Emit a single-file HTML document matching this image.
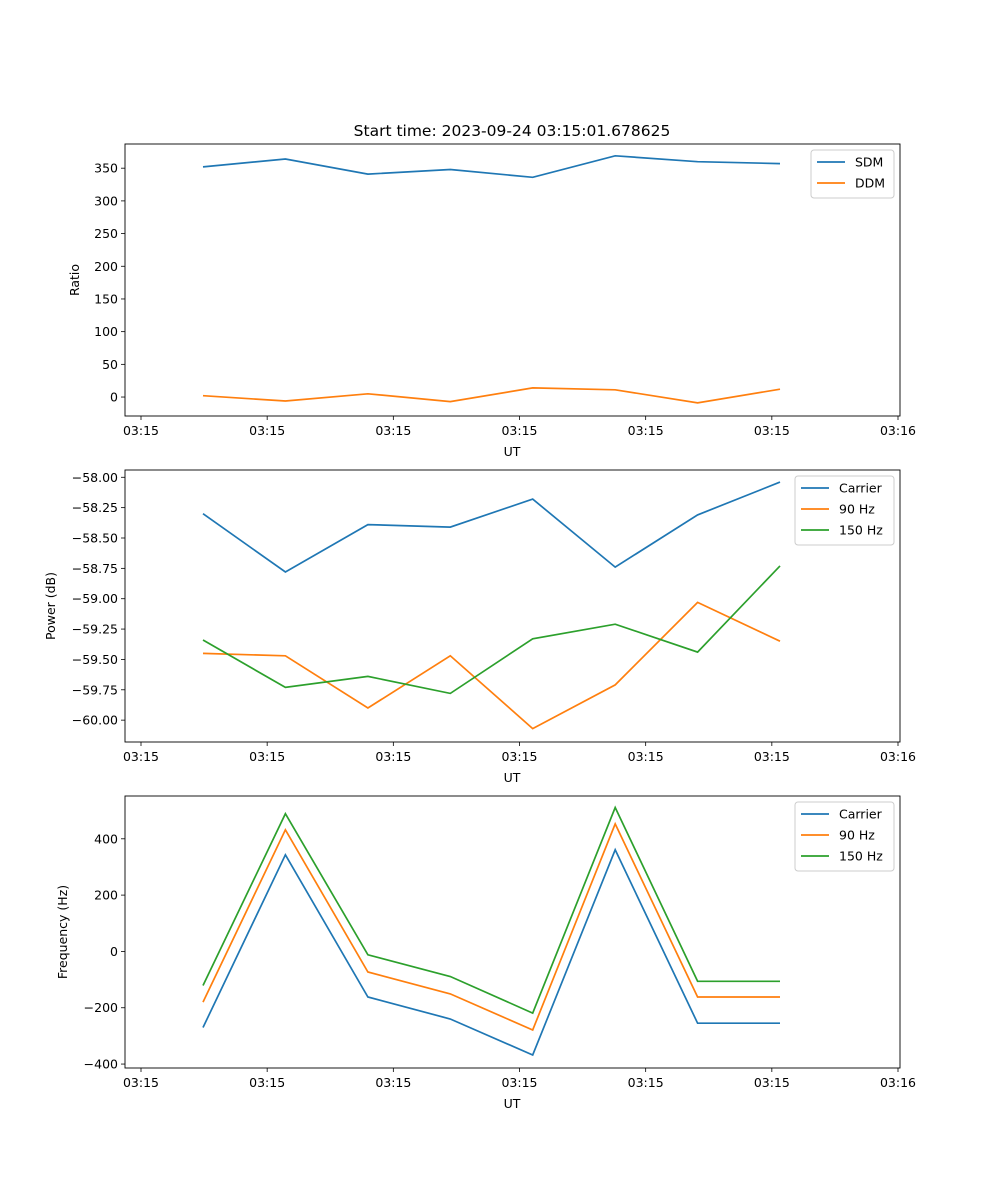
<!DOCTYPE html>
<html><head><meta charset="utf-8"><style>
body{margin:0;background:#fff;}
svg{display:block;font-family:"DejaVu Sans","Liberation Sans",sans-serif;}
</style></head><body>
<svg id="fig" width="1000" height="1200" viewBox="0 0 1000 1200">
<text x="512" y="136" font-size="15.5" text-anchor="middle">Start time: 2023-09-24 03:15:01.678625</text>
</svg>
<script>
const xTickLabels=["03:15","03:15","03:15","03:15","03:15","03:15","03:16"];
const sdm=[352,364,341,348,336,369,360,357];
const ddm=[2,-6,5,-7,14,11,-9,12];
const pCarrier=[-58.30,-58.78,-58.39,-58.41,-58.18,-58.74,-58.31,-58.04];
const p90=[-59.45,-59.47,-59.90,-59.47,-60.07,-59.71,-59.03,-59.35];
const p150=[-59.34,-59.73,-59.64,-59.78,-59.33,-59.21,-59.44,-58.73];
const fCarrier=[-270,343,-162,-240,-368,361,-255,-255];
const f90=[-180,432,-73,-151,-279,453,-162,-162];
const f150=[-121,489,-12,-89,-219,511,-106,-106];
const ticks1=[0,50,100,150,200,250,300,350];
const ticks2=[-60.00,-59.75,-59.50,-59.25,-59.00,-58.75,-58.50,-58.25,-58.00];
const ticks3=[-400,-200,0,200,400];
const NS="http://www.w3.org/2000/svg";
const svg=document.getElementById('fig');
const C={b:"#1f77b4",o:"#ff7f0e",g:"#2ca02c"};
function mk(t,a,p){const e=document.createElementNS(NS,t);for(const k in a)e.setAttribute(k,a[k]);(p||svg).appendChild(e);return e;}
const L=125,R=900;
function xs(i){return 203+i*82.43;}
function fmt(v,d){const s=Math.abs(v).toFixed(d);return (v<0?"\u2212":"")+s;}
function panel(top,bot,ymin,ymax,ticks,dec,ylabel,series,legend,name){
  const g=mk('g',{});
  
  
  const ys=v=>bot-(v-ymin)/(ymax-ymin)*(bot-top);
  ticks.forEach(t=>{const y=ys(t);
    const l=mk('line',{x1:L-4,x2:L,y1:y,y2:y,stroke:'#000','stroke-width':0.8},g);
    
    const tx=mk('text',{x:L-7,y:y+4.5,'font-size':12.5,'text-anchor':'end'},g);
    
    tx.textContent=fmt(t,dec);});
  xTickLabels.forEach((lab,i)=>{const x=141+(898-141)*i/6;
    const l=mk('line',{x1:x,x2:x,y1:bot,y2:bot+4,stroke:'#000','stroke-width':0.8},g);
    
    const tx=mk('text',{x:x,y:bot+19,'font-size':12.5,'text-anchor':'middle'},g);
    
    tx.textContent=lab;});
  const xl=mk('text',{x:512,y:bot+40,'font-size':12.5,'text-anchor':'middle'},g);
  
  xl.textContent="UT";
  const yl=mk('text',{x:0,y:0,'font-size':12.5,'text-anchor':'middle',transform:`translate(${ylabel[1]},${(top+bot)/2}) rotate(-90)`},g);
  
  yl.textContent=ylabel[0];
  series.forEach(s=>{const pts=s.d.map((v,i)=>xs(i).toFixed(1)+","+ys(v).toFixed(1)).join(" ");
    const p=mk('polyline',{points:pts,fill:'none',stroke:s.c,'stroke-width':1.7},g);
    });
  const fr=mk('rect',{x:L,y:top,width:R-L,height:bot-top,fill:'none',stroke:'#000','stroke-width':0.9},g);
  
  const lw=legend, lh=6+series.length*21;
  const lg=mk('g',{},g);
  
  mk('rect',{x:R-6-lw,y:top+6,width:lw,height:lh,rx:3,fill:'#fff',stroke:'#ccc','stroke-width':1},lg);
  series.forEach((s,i)=>{const y=top+18+i*21;const x0=R-6-lw+6;
    mk('line',{x1:x0,x2:x0+28,y1:y,y2:y,stroke:s.c,'stroke-width':1.7},lg);
    const t=mk('text',{x:x0+38,y:y+4.5,'font-size':12.5},lg);
    
    t.textContent=s.n;});
}
panel(144,416,-29,387,ticks1,0,["Ratio",79],[{d:sdm,c:C.b,n:"SDM"},{d:ddm,c:C.o,n:"DDM"}],83,'ratio-panel');
panel(470,742,-60.18,-57.94,ticks2,2,["Power (dB)",55],[{d:pCarrier,c:C.b,n:"Carrier"},{d:p90,c:C.o,n:"90 Hz"},{d:p150,c:C.g,n:"150 Hz"}],99,'power-panel');
panel(796,1068,-414,552,ticks3,0,["Frequency (Hz)",67],[{d:fCarrier,c:C.b,n:"Carrier"},{d:f90,c:C.o,n:"90 Hz"},{d:f150,c:C.g,n:"150 Hz"}],99,'frequency-panel');
</script>
</body></html>
